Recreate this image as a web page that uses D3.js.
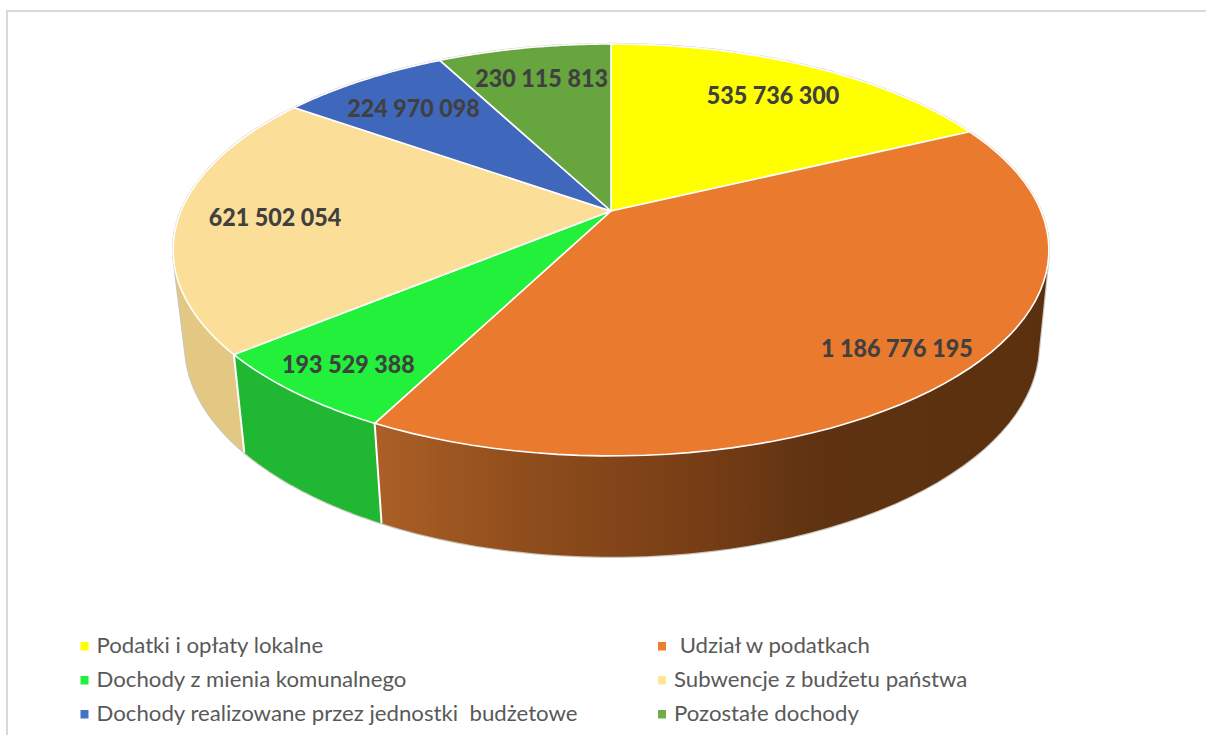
<!DOCTYPE html>
<html><head><meta charset="utf-8">
<style>html,body{margin:0;padding:0;background:#fff}svg{display:block}text{white-space:pre}</style>
<script src="https://cdn.jsdelivr.net/npm/d3@7"></script>
</head><body><svg id="c" width="1206" height="735"></svg>
<script>
const categories=["Podatki i opłaty lokalne"," Udział w podatkach","Dochody z mienia komunalnego","Subwencje z budżetu państwa","Dochody realizowane przez jednostki  budżetowe","Pozostałe dochody"];
const values=[535736300,1186776195,193529388,621502054,224970098,230115813];
const labels=["535 736 300","1 186 776 195","193 529 388","621 502 054","224 970 098","230 115 813"];
const topColors=["#ffff00","#ea7a2e","#22f03a","#fbdf98","#3f68bd","#67a53f"];
const legendColors=["#ffff00","#ed7d31","#22f03a","#ffe699","#4472c4","#70ad47"];
const wallColors=["#c8c800","url(#wallGrad)","#20b732","#e3c884","#2f4f90","#4f8030"];
const labelRadii=[.78,.85,.86,.78,.765,.795];
const labelNudge=[3,-2,3,1,-2,2];

const svg=d3.select("#c");
svg.append("path").attr("d","M7,735V11H1206").attr("fill","none").attr("stroke","#d9d9d9").attr("stroke-width",2);

const defs=svg.append("defs");
const grad=defs.append("linearGradient").attr("id","wallGrad").attr("gradientUnits","userSpaceOnUse")
  .attr("x1",380).attr("x2",1045).attr("y1",0).attr("y2",0);
[[0,"#ab5f26"],[.22,"#8f4d1c"],[.5,"#753c15"],[.65,"#5f3311"],[1,"#5a300f"]].forEach(s=>grad.append("stop").attr("offset",s[0]).attr("stop-color",s[1]));

// perspective projection of the tilted disc, apex at (611,211)
const cx=611,cy=211,k=-0.189,A=198.6,B=430;
function proj(a,r){const u=r*Math.sin(a),v=-r*Math.cos(a),w=1+k*v;return [cx+B*u/w,cy+A*v/w];}
function low(p){return [cx+1+(p[0]-cx)*.975,p[1]*1.03+87.3];}

const arcs=d3.pie().sort(null).value(d=>d)(values);
const line=d3.line();
const sample=(a0,a1)=>d3.range(0,61).map(i=>a0+(a1-a0)*i/60);

// side walls, back to front; hull gives the straight silhouette
const order=d3.range(arcs.length).sort((p,q)=>{
  const f=i=>-Math.cos((arcs[i].startAngle+arcs[i].endAngle)/2);return f(p)-f(q);});
const walls=svg.append("g");
const allRim=d3.range(0,360).map(t=>proj(t*Math.PI/180,1));
const hullAll=d3.polygonHull(allRim.concat(allRim.map(low)));
svg.append("path").attr("d",line(hullAll)+"Z").attr("fill","none").attr("stroke","#c9c6bd").attr("stroke-width",2.2).lower();
order.forEach(i=>{
  const d=arcs[i];const up=sample(d.startAngle,d.endAngle).map(a=>proj(a,1));
  const hull=d3.polygonHull(up.concat(up.map(low)));
  walls.append("path").attr("d",line(hull)+"Z").attr("fill",wallColors[i]);
});
arcs.forEach(d=>{
  const p=proj(d.startAngle,1);
  if(-Math.cos(d.startAngle)>0.1) svg.append("path").attr("d",line([p,low(p)])).attr("stroke","#fff").attr("stroke-width",2).attr("fill","none");
});
// top slices
arcs.forEach((d,i)=>{
  const pts=sample(d.startAngle,d.endAngle).map(a=>proj(a,1));
  svg.append("path").attr("d",line([[cx,cy]].concat(pts))+"Z").attr("fill",topColors[i])
    .attr("stroke","#fff").attr("stroke-width",1.6).attr("stroke-linejoin","round");
});
// data labels: fit width to the reference face
arcs.forEach((d,i)=>{
  const p=proj((d.startAngle+d.endAngle)/2,labelRadii[i]);
  const t=svg.append("text").attr("x",p[0]+labelNudge[i]).attr("y",p[1]+1).attr("dy","0.35em").attr("text-anchor","middle")
    .attr("font-family","Lato").attr("font-weight",900).attr("font-size",24).attr("fill","#404040").text(labels[i]);
  t.attr("textLength",t.node().getComputedTextLength()*.97).attr("lengthAdjust","spacingAndGlyphs");
});
// legend
const colX=d3.scalePoint().domain([0,1]).range([80.5,658]);
const rowY=d3.scalePoint().domain([0,1,2]).range([646,714]);
categories.forEach((c,i)=>{
  const col=i%2,row=Math.floor(i/2);
  svg.append("rect").attr("x",colX(col)).attr("y",rowY(row)-4).attr("width",8).attr("height",8.5).attr("fill",legendColors[i]);
  const t=svg.append("text").attr("x",colX(col)+16).attr("y",rowY(row)-.6).attr("dy","0.35em")
    .attr("font-family","Lato").attr("font-size",21).attr("fill","#595959").text(c);
  t.attr("textLength",t.node().getComputedTextLength()*1.057).attr("lengthAdjust","spacingAndGlyphs");
});
</script></body></html>
